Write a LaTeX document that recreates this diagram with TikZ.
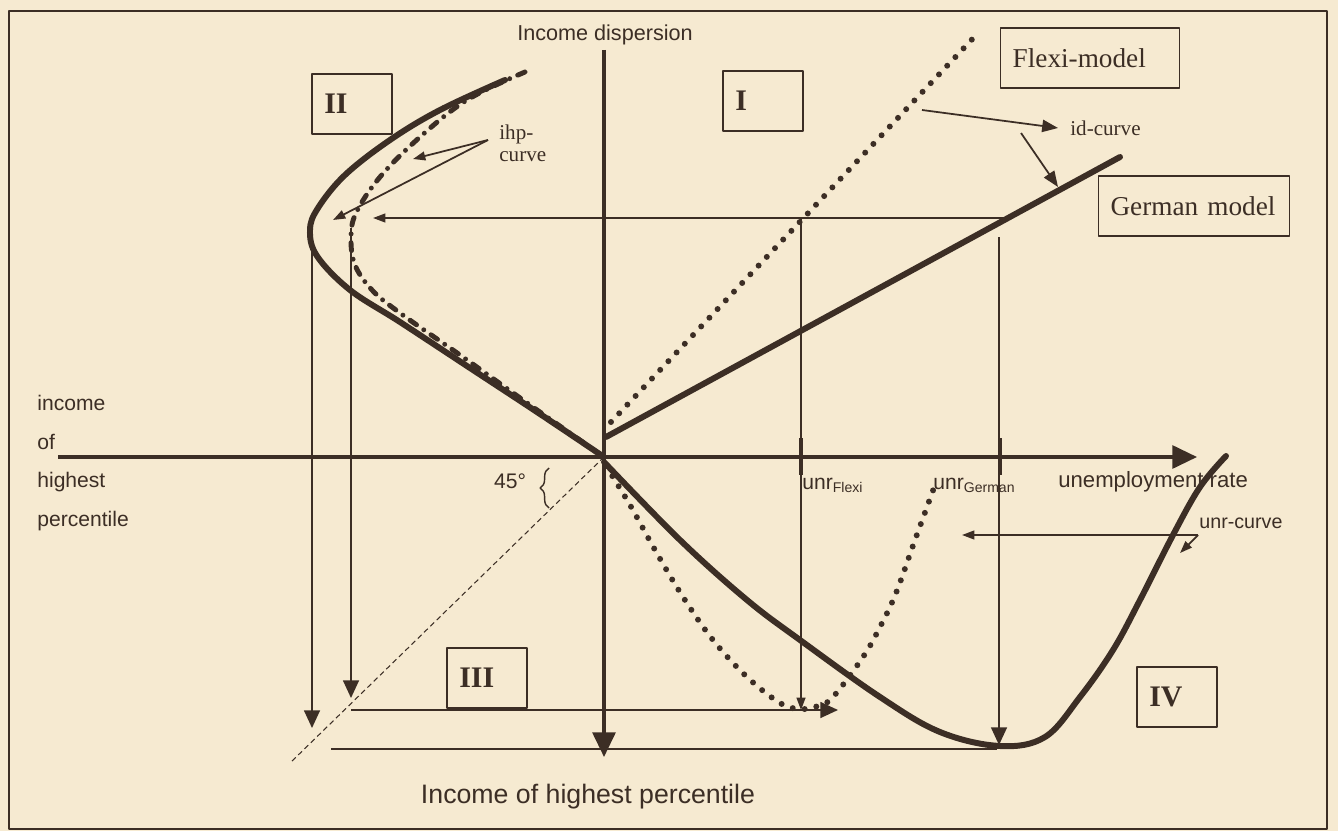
\documentclass[tikz,border=0pt]{standalone}
\usepackage{fontspec}
\setmainfont{Liberation Serif}
\setsansfont{Liberation Sans}
\usepackage{tikz}
\usetikzlibrary{arrows.meta, positioning, calc, decorations.pathreplacing}
\definecolor{PaperTone}{RGB}{246, 234, 209}
\definecolor{InkBrown}{RGB}{60, 46, 37}
\tikzset{
  quadbox/.style={rectangle, draw=InkBrown, line width=0.8pt,
                  minimum height=34pt, text width=#1, inner xsep=7pt, align=left,
                  font=\fontsize{17}{20}\selectfont\bfseries, text=InkBrown},
  quadbox/.default=31.5pt,
  modelbox/.style={quadbox=#1, font=\fontsize{15.5}{18}\selectfont},
  sanslbl/.style={font=\sffamily\fontsize{#1}{22}\selectfont, text=InkBrown, inner sep=0pt},
  seriflbl/.style={font=\fontsize{12}{12.5}\selectfont, text=InkBrown, inner sep=0pt, align=left},
  axisline/.style={line width=1.9pt, draw=InkBrown, -{Triangle[length=14pt, width=13pt]}},
  guide/.style={line width=1pt, draw=InkBrown},
  bigarr/.style={guide, -{Triangle[length=10pt, width=9pt]}},
  midarr/.style={guide, -{Triangle[length=9pt, width=7pt]}},
  smallarr/.style={guide, -{Triangle[length=7pt, width=5pt]}},
  tick/.style={line width=1.8pt, draw=InkBrown},
  curvesolid/.style={line width=3.4pt, draw=InkBrown, line cap=round},
  curvedots/.style={line width=3.4pt, draw=InkBrown, line cap=round, dash pattern=on 0pt off 6.8pt},
  curvedashdot/.style={line width=2.8pt, draw=InkBrown, line cap=round,
                       dash pattern=on 4.5pt off 5pt on 0pt off 5pt},
  diagline/.style={line width=0.6pt, draw=InkBrown, dash pattern=on 3pt off 2pt},
}

\begin{document}
\begin{tikzpicture}[x=0.02cm, y=-0.02cm, line join=round]
  \fill[PaperTone] (0,0) rectangle (1338,831);
  \useasboundingbox (0,0) rectangle (1338,831);
  \draw[InkBrown, line width=1.1pt] (9,11) rectangle (1327,829);

  % key points
  \coordinate (O) at (604,457);
  \coordinate (ytop) at (604,50);
  \coordinate (ybot) at (604,757);
  \coordinate (xleft) at (58,457);
  \coordinate (xright) at (1197,457);
  \coordinate (diagEnd) at (290,763);

  \coordinate (gTopR) at (1003,218);
  \coordinate (gTopL) at (373,218);
  \coordinate (flexiTop) at (801,218);
  \coordinate (flexiBot) at (801,710);
  \coordinate (germanTop) at (999,237);
  \coordinate (germanBot) at (999,745);
  \coordinate (outerTop) at (312,245);
  \coordinate (outerBot) at (312,728);
  \coordinate (innerTop) at (351,228);
  \coordinate (innerBot) at (351,698);
  \coordinate (lowL) at (351,710);
  \coordinate (lowR) at (838,710);
  \coordinate (bottomL) at (331,749);
  \coordinate (bottomR) at (997,749);
  \coordinate (unrR) at (1198,535);
  \coordinate (unrL) at (962,535);
  \coordinate (unrTip) at (1180,553);

  \coordinate (ihpTail) at (488,140);
  \coordinate (ihpHead1) at (413,159);
  \coordinate (ihpHead2) at (333,220);
  \coordinate (idTail1) at (922,110);
  \coordinate (idHead1) at (1058,128);
  \coordinate (idTail2) at (1021,133);
  \coordinate (idHead2) at (1058,187);

  \coordinate (idFlexiStart) at (611,422);
  \coordinate (idFlexiEnd) at (979,32);
  \coordinate (idGermanStart) at (606,437);
  \coordinate (idGermanEnd) at (1120,157);

  % guide lines
  \draw[smallarr] (gTopR) -- (gTopL);
  \draw[smallarr] (flexiTop) -- (flexiBot);
  \draw[bigarr] (germanTop) -- (germanBot);
  \draw[bigarr] (outerTop) -- (outerBot);
  \draw[bigarr] (innerTop) -- (innerBot);
  \draw[bigarr] (lowL) -- (lowR);
  \draw[guide] (bottomL) -- (bottomR);
  \draw[smallarr] (unrR) -- (unrL);
  \draw[smallarr] (unrR) -- (unrTip);
  \draw[diagline] (O) -- (diagEnd);

  % axes
  \draw[axisline] (ytop) -- (ybot);
  \draw[axisline] (xleft) -- (xright);
  \draw[tick] (801,438) -- (801,475);
  \draw[tick] (1000,438) -- (1000,475);

  % id-curves
  \draw[curvedots] (idFlexiStart) -- (idFlexiEnd);
  \draw[curvesolid] (idGermanStart) -- (idGermanEnd);

  % ihp-curves
  \draw[curvesolid] plot[smooth, tension=0.6] coordinates {(505,80) (440,110) (390,140) (345,175)
    (318,208) (310,230) (317,256) (350,290) (400,322) (470,368) (540,414) (604,457)};
  \draw[curvedashdot] plot[smooth, tension=0.6] coordinates {(525,72) (467,100) (420,137) (380,177)
    (356,213) (351,238) (355,265) (372,290) (400,313) (460,355) (530,405) (604,457)};

  % unr-curves
  \draw[curvesolid] plot[smooth, tension=0.6] coordinates {(604,462) (680,540) (747,600) (800,640)
    (880,697) (940,732) (1000,746) (1045,737) (1080,697) (1113,650) (1140,600) (1173,535)
    (1200,487) (1226,456)};
  \draw[curvedots] plot[smooth, tension=0.6] coordinates {(606,466) (630,505) (655,550) (683,597)
    (713,640) (747,677) (780,703) (800,709) (818,706) (833,697) (863,657) (880,627) (896,593)
    (915,540) (935,485)};

  % label arrows
  \draw[smallarr] (ihpTail) -- (ihpHead1);
  \draw[smallarr] (ihpTail) -- (ihpHead2);
  \draw[midarr] (idTail1) -- (idHead1);
  \draw[midarr] (idTail2) -- (idHead2);

  % boxes
  \node[quadbox] (qII) at (352,104) {II};
  \node[quadbox] (qI) at (763,101) {I};
  \node[quadbox] (qIII) at (487,678) {III};
  \node[quadbox] (qIV) at (1177,697) {IV};
  \node[modelbox=88pt] (flexibox) at (1090,58) {Flexi-model};
  \node[modelbox=95pt] (germanbox) at (1194,206) {German model};

  % texts
  \node[sanslbl=12.3] (dispersion) at (605,35) {Income dispersion};
  \node[sanslbl=15.2] (ihpaxis) at (588,797) {Income of highest percentile};
  \node[sanslbl=12, anchor=west, align=left] (leftlbl) at (37,463) {income\\of\\highest\\percentile};
  \node[sanslbl=12.6, anchor=west] (unemp) at (1058,482) {unemployment rate};
  \node[sanslbl=12, anchor=west] (unrflexi) at (802,485) {unr\textsubscript{Flexi}};
  \node[sanslbl=12, anchor=west] (unrgerman) at (933,485) {unr\textsubscript{German}};
  \node[sanslbl=11.2, anchor=west] (unrlbl) at (1199,523) {unr-curve};
  \node[sanslbl=12] (angle) at (510,481) {45°};
  \draw[decorate, decoration={brace, amplitude=5pt}, InkBrown, line width=0.8pt] (549,508) -- (549,468);
  \node[seriflbl, anchor=north west] (ihplbl) at (499,125) {ihp-\\curve};
  \node[seriflbl, anchor=west] (idlbl) at (1070,128) {id-curve};
\end{tikzpicture}
\end{document}
